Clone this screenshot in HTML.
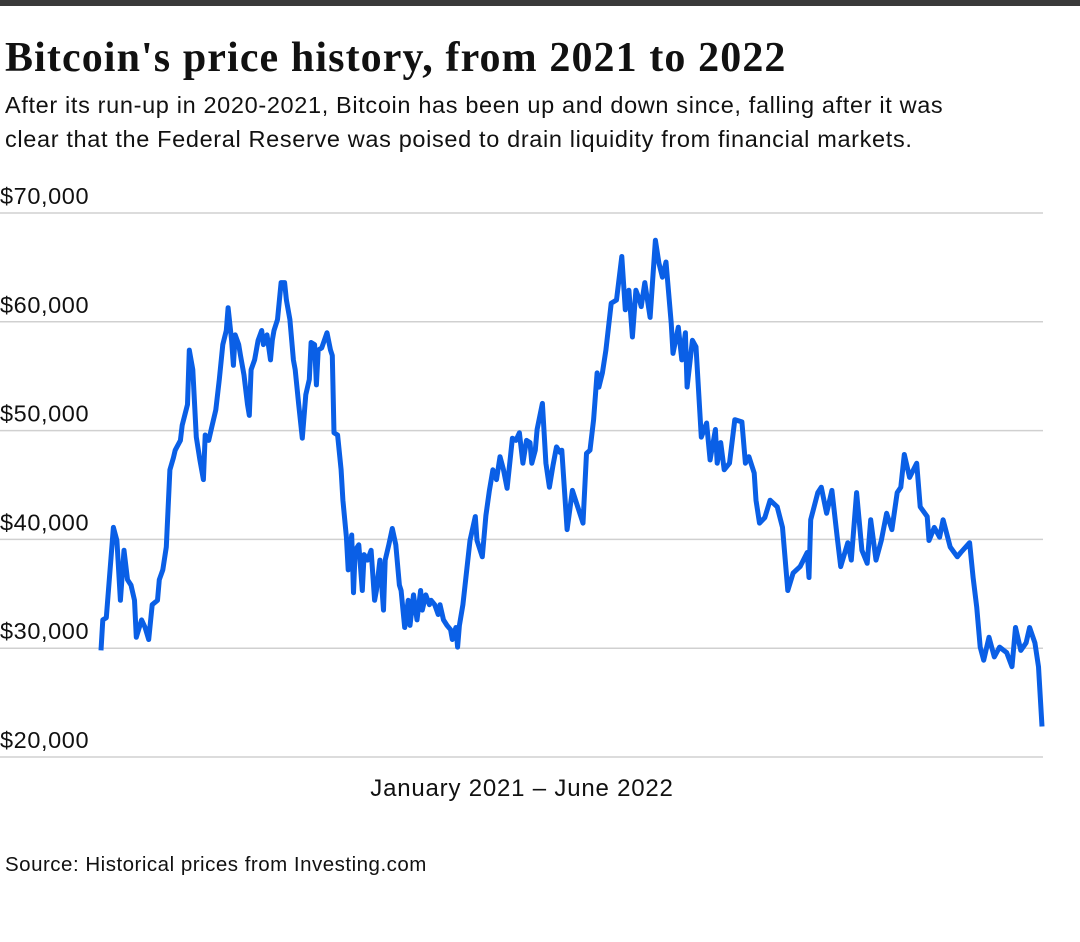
<!DOCTYPE html>
<html><head><meta charset="utf-8">
<style>
html,body{margin:0;padding:0;background:#fff;}
body{width:1080px;height:942px;position:relative;overflow:hidden;font-family:"Liberation Sans",sans-serif;color:#111;}
#topbar{position:absolute;left:0;top:0;width:1080px;height:6px;background:#3a3a3a;}
#title{position:absolute;left:5px;top:34px;font-family:"Liberation Serif",serif;font-weight:bold;font-size:42px;letter-spacing:1.1px;white-space:nowrap;}
#subtitle{position:absolute;left:5px;top:88px;font-size:23.5px;line-height:34px;width:1075px;letter-spacing:0.65px;white-space:nowrap;}
#source{position:absolute;left:5px;top:853px;font-size:20.5px;letter-spacing:0.5px;}
svg{position:absolute;left:0;top:0;}
</style></head>
<body>
<div id="topbar"></div>
<div id="title">Bitcoin's price history, from 2021 to 2022</div>
<div id="subtitle">After its run-up in 2020-2021, Bitcoin has been up and down since, falling after it was<br>clear that the Federal Reserve was poised to drain liquidity from financial markets.</div>
<svg id="chart" width="1080" height="942"></svg>
<div id="source">Source: Historical prices from Investing.com</div>
<script>
const days=[0,1,3,7,9,11,13,15,17,19,20,23,25,27,29,32,33,35,37,39,41,42,45,46,49,50,52,54,56,58,59,61,63,65,67,69,71,72,74,75,76,78,79,81,83,84,85,87,89,91,92,94,96,97,98,100,102,104,105,107,109,110,112,114,116,118,119,121,122,123,125,128,130,131,132,134,136,137,139,140,142,143,144,146,148,149,151,153,155,156,158,160,161,163,165,167,169,170,172,174,175,177,179,181,182,184,186,187,189,191,192,194,196,198,199,201,202,203,205,209,212,213,216,218,220,222,224,226,228,230,233,235,237,239,241,243,244,246,247,250,252,254,256,258,260,261,264,267,270,273,275,277,279,281,282,284,286,289,292,295,297,298,299,301,303,305,306,308,311,314,316,318,320,323,324,327,329,331,332,335,337,340,343,345,348,349,351,353,356,359,363,365,367,370,371,373,376,379,383,386,389,392,396,400,401,402,406,408,411,414,417,419,423,425,428,431,434,436,439,442,445,448,451,453,455,458,462,464,468,469,472,475,477,481,485,487,492,494,496,498,500,503,506,509,513,516,518,521,524,526,529,531,533];
const prices=[29.8,32.6,32.8,41.1,39.9,34.4,39.0,36.3,35.8,34.4,31.0,32.6,31.9,30.8,34.0,34.4,36.3,37.2,39.3,46.4,47.5,48.2,49.1,50.5,52.4,57.4,55.6,49.4,47.3,45.5,49.6,49.1,50.5,51.9,54.7,57.9,59.2,61.3,58.3,56.0,58.8,57.9,56.9,55.1,52.4,51.4,55.6,56.5,58.3,59.2,57.9,58.8,56.5,58.3,59.2,60.2,63.6,63.6,62.0,60.2,56.5,55.6,52.4,49.3,53.3,54.7,58.1,57.9,54.2,57.4,57.6,59.0,57.4,56.9,49.8,49.6,46.4,43.6,40.2,37.2,40.4,35.1,39.0,39.5,35.3,38.6,38.1,39.0,34.4,35.3,38.1,33.5,38.1,39.5,41.0,39.5,35.8,35.3,31.9,34.4,32.1,34.9,32.6,35.3,33.5,34.9,34.0,34.4,34.0,33.1,34.0,32.6,32.1,31.7,30.8,31.9,30.1,32.1,34.0,39.9,42.1,39.9,38.4,42.2,44.5,46.4,45.5,47.6,46.4,44.7,49.3,49.1,49.8,47.0,49.1,48.9,47.0,48.2,50.1,52.5,47.0,44.8,46.8,48.5,48.0,48.2,40.9,44.5,43.0,41.5,47.9,48.2,51.0,55.3,54.0,55.3,57.4,61.7,62.0,66.0,61.1,62.5,62.9,58.6,62.9,62.0,61.4,63.6,60.4,67.5,65.4,64.1,65.5,59.9,57.1,59.5,56.5,59.0,54.0,58.3,57.7,49.4,50.7,47.3,50.1,47.0,48.9,46.4,47.0,51.0,50.8,47.0,47.6,46.1,43.6,41.5,42.0,43.6,43.0,41.1,35.3,36.9,37.5,38.8,36.5,41.8,44.3,44.8,42.4,44.5,40.2,37.5,39.7,38.1,44.3,39.0,37.8,41.8,38.1,39.9,42.4,40.9,44.3,44.8,47.8,45.7,47.0,43.0,42.1,39.9,41.1,40.2,41.8,39.3,38.4,38.8,39.7,36.5,33.8,30.1,28.9,31.0,29.2,30.1,29.6,28.3,31.9,29.8,30.5,31.9,30.5,28.3,22.8];
const yTicks=[20,30,40,50,60,70];
const yTickLabels=["$20,000","$30,000","$40,000","$50,000","$60,000","$70,000"];

const NS="http://www.w3.org/2000/svg";
const svg=document.getElementById('chart');
const x0=101,x1=1042,yBase=757,yTop=213;
const dMax=533,vMin=20,vMax=70;
function xs(d){return x0+(d/dMax)*(x1-x0);}
function ys(v){return yBase-(v-vMin)/(vMax-vMin)*(yBase-yTop);}

yTicks.forEach((t,i)=>{
  const ln=document.createElementNS(NS,'line');
  ln.setAttribute('x1',0);ln.setAttribute('x2',1043);
  ln.setAttribute('y1',ys(t));ln.setAttribute('y2',ys(t));
  ln.setAttribute('stroke','#d0d0d0');ln.setAttribute('stroke-width','1.5');
  
  
  svg.appendChild(ln);
  const tx=document.createElementNS(NS,'text');
  tx.setAttribute('x',0);tx.setAttribute('y',ys(t)-9);
  tx.setAttribute('font-family','Liberation Sans, sans-serif');
  tx.setAttribute('font-size','23.5');tx.setAttribute('fill','#111');
  tx.setAttribute('letter-spacing','0.6');
  tx.textContent=yTickLabels[i];
  
  
  svg.appendChild(tx);
});

const xt=document.createElementNS(NS,'text');
xt.setAttribute('x',522);xt.setAttribute('y',796);
xt.setAttribute('text-anchor','middle');
xt.setAttribute('font-family','Liberation Sans, sans-serif');
xt.setAttribute('font-size','24');xt.setAttribute('fill','#111');
xt.setAttribute('letter-spacing','0.8');
xt.textContent='January 2021 \u2013 June 2022';


svg.appendChild(xt);

const pts=days.map((d,i)=>xs(d).toFixed(1)+','+ys(prices[i]).toFixed(1)).join(' ');
const pl=document.createElementNS(NS,'polyline');
pl.setAttribute('points',pts);
pl.setAttribute('fill','none');pl.setAttribute('stroke','#0a5fe6');
pl.setAttribute('stroke-width','5');pl.setAttribute('stroke-linejoin','round');


svg.appendChild(pl);
</script>
</body></html>
